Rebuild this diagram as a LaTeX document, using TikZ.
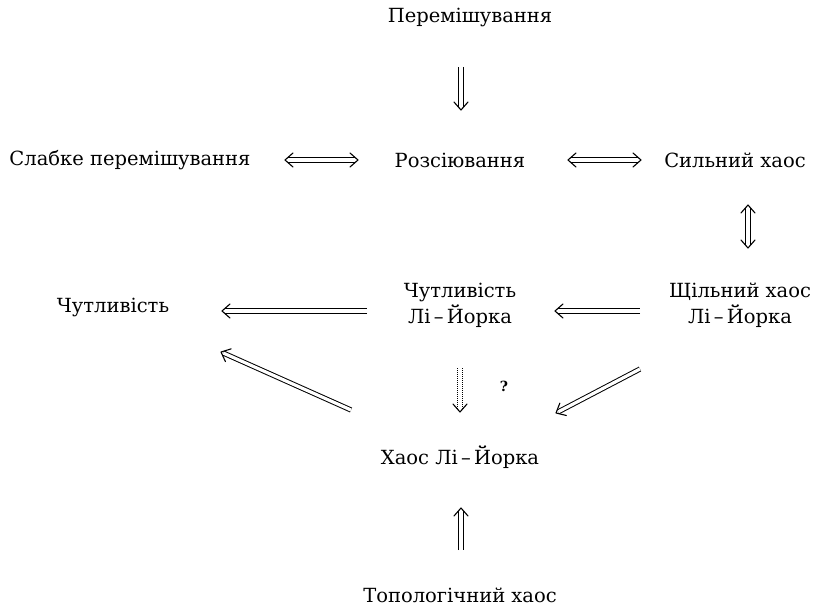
\documentclass[tikz,border=0pt]{standalone}
\usepackage{fontspec}
\setmainfont{DejaVu Serif}
\usetikzlibrary{calc}
\newcommand\myhead[2]{% head at #2, coming from #1
  \draw[headline] ($($(#2)!8pt!(#1)$)!7pt!90:(#2)$) -- (#2) -- ($($(#2)!8pt!(#1)$)!7pt!-90:(#2)$);}
\newcommand\myarrow[3][]{% from #2 to #3
  \draw[dblline,#1] (#2) -- ($(#3)!2.6pt!(#2)$);
  \myhead{#2}{#3}}
\newcommand\mytwoarrow[2]{%
  \draw[dblline] ($(#1)!2.6pt!(#2)$) -- ($(#2)!2.6pt!(#1)$);
  \myhead{#1}{#2}\myhead{#2}{#1}}
\begin{document}
\begin{tikzpicture}[x=1pt,y=-1pt,
  lbl/.style={font=\fontsize{19.5}{26}\selectfont, inner sep=0pt, align=center},
  dblline/.style={double, double distance=3.2pt, line width=1pt},
  headline/.style={line width=1.1pt, line join=round, line cap=round}]
\useasboundingbox (0,0) rectangle (827,610);
\node[lbl] (mix) at (470,17) {Перемішування};
\node[lbl] (weak) at (130,160) {Слабке перемішування};
\node[lbl] (disp) at (460,160) {Розсіювання};
\node[lbl] (strong) at (735,160) {Сильний хаос};
\node[lbl] (sens) at (113,307) {Чутливість};
\node[lbl] (sensly) at (460,305) {Чутливість\\Лі\,–\,Йорка};
\node[lbl] (dense) at (740,305) {Щільний хаос\\Лі\,–\,Йорка};
\node[lbl] (ly) at (460,457) {Хаос Лі\,–\,Йорка};
\node[lbl] (top) at (460,595) {Топологічний хаос};
\node[font=\fontsize{14}{16}\selectfont\bfseries] (q) at (504,386) {?};

\coordinate (a1s) at (461,67);  \coordinate (a1e) at (461,110);
\myarrow{a1s}{a1e}
\coordinate (a2s) at (285,160); \coordinate (a2e) at (358,160);
\mytwoarrow{a2s}{a2e}
\coordinate (a3s) at (568,160); \coordinate (a3e) at (641,160);
\mytwoarrow{a3s}{a3e}
\coordinate (a4s) at (748,205); \coordinate (a4e) at (748,248);
\mytwoarrow{a4s}{a4e}
\coordinate (a5s) at (640,311); \coordinate (a5e) at (555,311);
\myarrow{a5s}{a5e}
\coordinate (a6s) at (367,311); \coordinate (a6e) at (222,311);
\myarrow{a6s}{a6e}
\coordinate (a7s) at (351,410); \coordinate (a7e) at (221,352);
\myarrow{a7s}{a7e}
\coordinate (a8s) at (640,369); \coordinate (a8e) at (556,413);
\myarrow{a8s}{a8e}
\coordinate (a9s) at (460,368); \coordinate (a9e) at (460,412);
\myarrow[densely dotted]{a9s}{a9e}
\coordinate (a10s) at (461,550); \coordinate (a10e) at (461,508);
\myarrow{a10s}{a10e}
\end{tikzpicture}
\end{document}
